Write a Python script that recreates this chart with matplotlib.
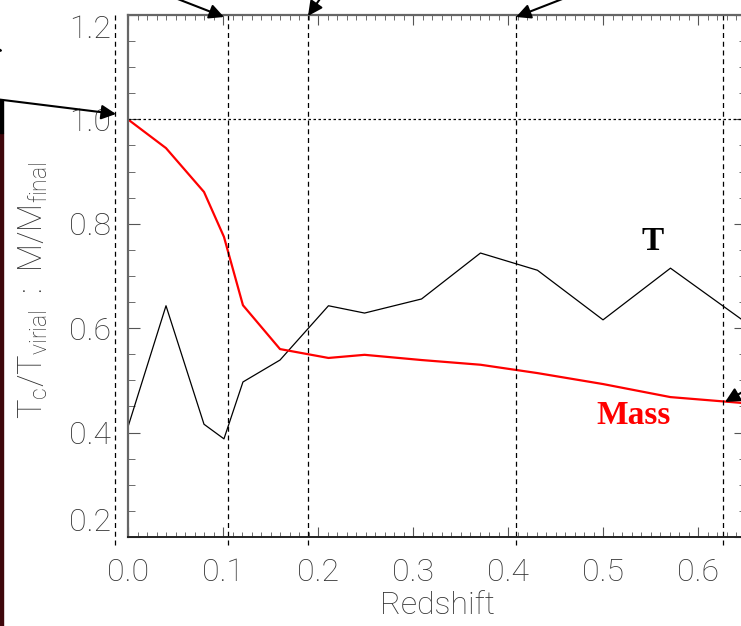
import matplotlib
matplotlib.use('Agg')
from matplotlib import pyplot as plt
from matplotlib.patches import Rectangle
from matplotlib.ticker import MultipleLocator

plt.rcParams['font.family'] = ['Roboto', 'DejaVu Sans']
plt.rcParams['font.weight'] = 'light'
plt.rcParams['axes.labelweight'] = 'light'
plt.rcParams['mathtext.fontset'] = 'custom'
plt.rcParams['mathtext.rm'] = 'Roboto:light'

# redshift grid shared by both curves
z = [0.0, 0.040, 0.080, 0.101, 0.121, 0.160, 0.211, 0.249, 0.309, 0.371, 0.431, 0.500, 0.571, 0.645]
mass = [1.000, 0.945, 0.861, 0.775, 0.644, 0.560, 0.543, 0.549, 0.539, 0.530, 0.514, 0.493, 0.468, 0.457]
temp = [0.411, 0.643, 0.416, 0.388, 0.497, 0.539, 0.643, 0.629, 0.656, 0.744, 0.711, 0.616, 0.715, 0.618]
marks = [-0.0137, 0.105, 0.189, 0.408, 0.626]   # dashed verticals
xticks = [0.0, 0.1, 0.2, 0.3, 0.4, 0.5, 0.6]
yticks = [0.2, 0.4, 0.6, 0.8, 1.0, 1.2]

W, H = 741, 626
fig = plt.figure(figsize=(W/100, H/100), dpi=100)
ax = fig.add_axes([128/W, 89/H, 618/W, 522/H])

ax.plot(z, temp, color='black', lw=0.9)
ax.plot(z, mass, color='red', lw=1.6)
ax.axhline(1.0, color='black', lw=0.9, ls=(0, (2, 2)))
ax.vlines(marks, 0.185, 1.2, color='black', lw=0.9, ls=(0, (4, 3)), clip_on=False)

ax.text(0.5526, 0.767, 'T', color='black', fontsize=24, fontweight='bold',
        family='Liberation Serif', ha='center', va='center')
ax.text(0.5326, 0.432, 'Mass', color='red', fontsize=24, fontweight='bold',
        family='Liberation Serif', ha='center', va='center')

ax.set_xlim(0, 0.6505)
ax.set_ylim(0.2, 1.2)
ax.set_xticks(xticks)
ax.set_xticklabels(['%.1f' % v for v in xticks])
ax.set_yticks(yticks)
ylabs = ax.set_yticklabels(['%.1f' % v for v in yticks])
ylabs[0].set_va('bottom')
ylabs[-1].set_va('top')
ax.xaxis.set_minor_locator(MultipleLocator(0.01))
ax.yaxis.set_minor_locator(MultipleLocator(0.05))
ax.tick_params(which='both', direction='in', top=True, right=True, color='#555555',
               labelcolor='#333333', labelsize=23)
ax.tick_params(axis='x', which='major', length=7.2, pad=15)
ax.tick_params(axis='x', which='minor', length=3.6)
ax.tick_params(axis='y', which='major', length=8.6, pad=12)
ax.tick_params(axis='y', which='minor', length=5)
for s in ['left', 'top', 'right']:
    ax.spines[s].set_color('#666666')
    ax.spines[s].set_linewidth(1.6)
ax.spines['bottom'].set_color('#222222')
ax.spines['bottom'].set_linewidth(1.4)

ax.set_xlabel('Redshift', fontsize=23, color='#333333', labelpad=3)
fig.text(33/W, 1 - 290/H, r'T$_{\mathrm{c}}$/T$_{\mathrm{virial}}$  :  M/M$_{\mathrm{final}}$',
         rotation=90, ha='center', va='center', fontsize=23.5, color='#333333')

# arrows coming in from outside the frame (image pixel coords, y down)
arrows = [((224, 17), (170, -4)), ((308, 16), (322, -4)), ((516, 17), (570, -4)),
          ((116, 114), (-5, 99)), ((725, 402), (760, 382)), ((3, 51), (-20, 46))]
for tip, tail in arrows:
    ax.annotate('', xy=(tip[0], H - tip[1]), xytext=(tail[0], H - tail[1]),
                xycoords='figure pixels', textcoords='figure pixels',
                arrowprops=dict(arrowstyle='-|>', color='black', lw=1.5,
                                mutation_scale=22, shrinkA=0, shrinkB=0),
                annotation_clip=False)

# sliver of a neighbouring panel on the left edge
fig.patches.append(Rectangle((0, 0), 3/W, 1 - 133/H, transform=fig.transFigure,
                             color='#3e070b', zorder=0))
fig.patches.append(Rectangle((0, 1 - 133/H), 3/W, 33/H, transform=fig.transFigure,
                             color='black', zorder=0))

fig.savefig('out.png', dpi=100)
